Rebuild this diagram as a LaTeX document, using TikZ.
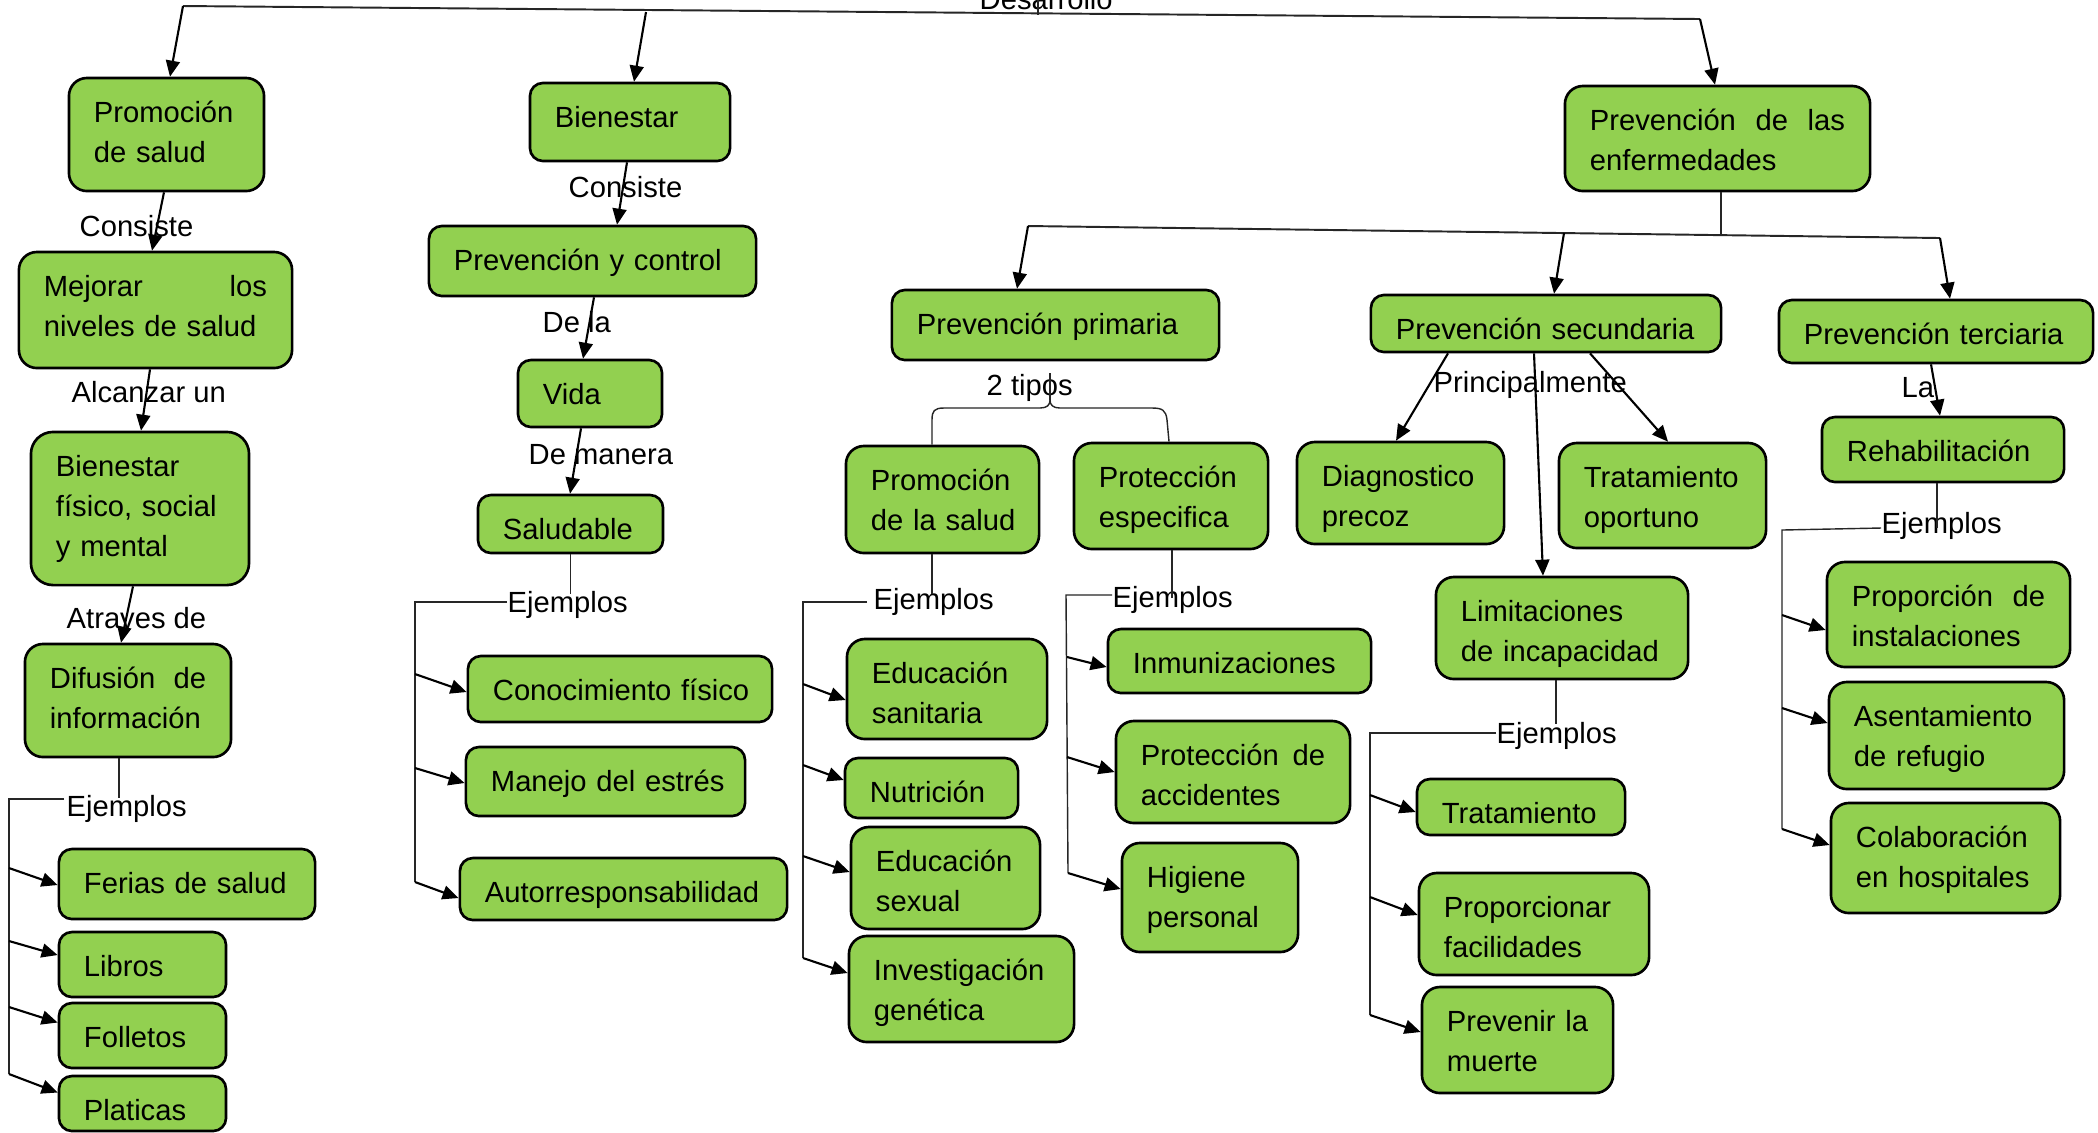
\documentclass[tikz,border=0pt]{standalone}
\usepackage{fontspec}
\setmainfont{Liberation Sans}
\usetikzlibrary{calc,arrows.meta}
\definecolor{boxgreen}{RGB}{146,208,80}
\begin{document}
\lefthyphenmin=62
\righthyphenmin=62
\begin{tikzpicture}[x=0.01cm,y=-0.01cm,
  box/.style={draw=black, line width=0.75pt, fill=boxgreen, rounded corners=0.13cm,
    inner sep=0pt, align=left, text height=0.445cm, font=\fontsize{8.3}{11.4}\selectfont},
  sz/.style n args={4}{minimum width=#1cm, minimum height=#2cm, text width=#3cm, text depth=#4cm},
  tall/.style={rounded corners=0.18cm},
  lbl/.style={inner sep=0pt, anchor=base west, font=\fontsize{8.3}{11.4}\selectfont},
  arr/.style={line width=0.6pt, -{Triangle[length=1.6mm,width=1.4mm]}},
  thinl/.style={line width=0.4pt, black!85},
  midl/.style={line width=0.55pt, black!85}]
\useasboundingbox (0,0) rectangle (2098,1132);
\fill[white] (0,0) rectangle (2098,1132);

% ---------- boxes ----------
\node[box,tall,sz={1.95}{1.13}{1.45}{0.685}] (promo) at (166.5,134.5) {Promoción\\de salud};
\node[box,tall,sz={2.73}{1.16}{2.23}{0.715}] (mejorar) at (155.5,310) {Mejorar\hfill los\\niveles de salud};
\node[box,rounded corners=0.22cm,sz={2.18}{1.53}{1.68}{1.085}] (bfsm) at (140,508.5) {Bienestar\\físico, social\\y mental};
\node[box,tall,sz={2.06}{1.13}{1.56}{0.685}] (difusion) at (128,700.5) {Difusión\hfill de\\información};
\node[box,sz={2.56}{0.70}{2.06}{0.255}] (ferias) at (187,884) {Ferias~de~salud};
\node[box,sz={1.67}{0.65}{1.17}{0.205}] (libros) at (142.5,964.5) {Libros};
\node[box,sz={1.67}{0.65}{1.17}{0.205}] (folletos) at (142.5,1035.5) {Folletos};
\node[box,sz={1.67}{0.55}{1.17}{0.105}] (platicas) at (142.5,1103.5) {Platicas};

\node[box,sz={2.00}{0.78}{1.50}{0.335}] (bienestar) at (630,122) {Bienestar};
\node[box,sz={3.27}{0.70}{2.77}{0.255}] (pyc) at (592.5,261) {Prevención~y~control};
\node[box,sz={1.44}{0.67}{0.94}{0.225}] (vida) at (590,393.5) {Vida};
\node[box,sz={1.85}{0.58}{1.35}{0.135}] (saludable) at (570.5,524) {Saludable};
\node[box,sz={3.04}{0.66}{2.54}{0.215}] (conoc) at (620,689) {Conocimiento~físico};
\node[box,sz={2.79}{0.69}{2.29}{0.245}] (manejo) at (605.5,781.5) {Manejo~del~estrés};
\node[box,sz={3.27}{0.62}{2.77}{0.175}] (autor) at (623.5,889) {Autorresponsabilidad};

\node[box,tall,sz={3.05}{1.05}{2.55}{0.605}] (pde) at (1717.5,138.5) {Prevención\hfill de\hfill las\\enfermedades};
\node[box,sz={3.27}{0.70}{2.77}{0.255}] (pprim) at (1055.5,325) {Prevención~primaria};
\node[box,sz={3.50}{0.57}{3.00}{0.125}] (psec) at (1546,323.5) {Prevención~secundaria};
\node[box,sz={3.14}{0.63}{2.64}{0.185}] (pter) at (1936,331.5) {Prevención~terciaria};

\node[box,tall,sz={1.93}{1.07}{1.43}{0.625}] (pls) at (942.5,499.5) {Promoción\\de~la~salud};
\node[box,tall,sz={1.94}{1.06}{1.44}{0.615}] (pesp) at (1171,496) {Protección\\especifica};
\node[box,tall,sz={2.00}{1.00}{1.50}{0.555}] (edsan) at (947,689) {Educación\\sanitaria};
\node[box,sz={1.73}{0.60}{1.23}{0.155}] (nutri) at (931.5,788) {Nutrición};
\node[box,tall,sz={1.89}{1.02}{1.39}{0.575}] (edsex) at (945.5,878) {Educación\\sexual};
\node[box,tall,sz={2.25}{1.06}{1.75}{0.615}] (invgen) at (961.5,989) {Investigación\\genética};
\node[box,sz={2.63}{0.64}{2.13}{0.195}] (inmun) at (1239.5,661) {Inmunizaciones};
\node[box,tall,sz={2.34}{1.02}{1.84}{0.575}] (protacc) at (1233,772) {Protección\hfill de\\accidentes};
\node[box,tall,sz={1.76}{1.09}{1.26}{0.645}] (higiene) at (1210,897.5) {Higiene\\personal};

\node[box,tall,sz={2.07}{1.02}{1.57}{0.575}] (diag) at (1400.5,493) {Diagnostico\\precoz};
\node[box,tall,sz={2.07}{1.05}{1.57}{0.605}] (tratop) at (1662.5,495.5) {Tratamiento\\oportuno};
\node[box,tall,sz={2.52}{1.02}{2.02}{0.575}] (limit) at (1562,628) {Limitaciones\\de~incapacidad};
\node[box,sz={2.08}{0.56}{1.58}{0.115}] (trat) at (1521,807) {Tratamiento};
\node[box,tall,sz={2.30}{1.02}{1.80}{0.575}] (propfac) at (1534,924) {Proporcionar\\facilidades};
\node[box,tall,sz={1.91}{1.06}{1.41}{0.615}] (prevm) at (1517.5,1040) {Prevenir~la\\muerte};

\node[box,sz={2.42}{0.65}{1.92}{0.205}] (rehab) at (1943,449.5) {Rehabilitación};
\node[box,tall,sz={2.43}{1.05}{1.93}{0.605}] (propinst) at (1948.5,614.5) {Proporción\hfill de\\instalaciones};
\node[box,tall,sz={2.35}{1.07}{1.85}{0.625}] (asent) at (1946.5,735.5) {Asentamiento\\de refugio};
\node[box,tall,sz={2.29}{1.10}{1.79}{0.655}] (colab) at (1945.5,858) {Colaboración\\en hospitales};

% ---------- labels ----------
\node[lbl] (desarrollo) at (979,9) {Desarrollo};
\node[lbl] (consiste1) at (79,236) {Consiste};
\node[lbl] (alcanzar) at (71,402) {Alcanzar un};
\node[lbl] (atraves) at (66,628) {Atraves de};
\node[lbl] (ej1) at (66,816) {Ejemplos};
\node[lbl] (consiste2) at (568,197) {Consiste};
\node[lbl] (dela) at (542,332) {De la};
\node[lbl] (demanera) at (528,464) {De manera};
\node[lbl] (ej2) at (507,612) {Ejemplos};
\node[lbl] (tipos) at (986,395) {2 tipos};
\node[lbl] (ej3) at (873,609) {Ejemplos};
\node[lbl] (ej4) at (1112,607) {Ejemplos};
\node[lbl] (princ) at (1433,392) {Principalmente};
\node[lbl] (ej5) at (1496,743) {Ejemplos};
\node[lbl] (la) at (1901,397) {La};
\node[lbl] (ej6) at (1881,533) {Ejemplos};

% ---------- top level ----------
\coordinate (tA) at (183,6);
\coordinate (tBien) at (646,12);
\coordinate (tB) at (1700,19);
\draw[midl] (tA) -- (tB);
\draw[thinl] ($(desarrollo.base west)+(59,-9)$) -- ++(0,15);
\draw[arr] (tA) -- ($(promo.north)+(3.5,0)$);
\draw[arr] (tBien) -- ($(bienestar.north)+(4,0)$);
\draw[arr] (tB) -- ($(pde.north)+(-2.5,0)$);

% ---------- second level ----------
\coordinate (s1) at (1028,226);
\coordinate (s2) at (1564,233);
\coordinate (sJ) at (1721,235);
\coordinate (s3) at (1940,238);
\draw[thinl] ($(pde.south)+(3.5,0)$) -- (sJ);
\draw[midl] (s1) -- (s3);
\draw[arr] (s1) -- ($(pprim.north)+(-38.5,0)$);
\draw[arr] (s2) -- ($(psec.north)+(8,0)$);
\draw[arr] (s3) -- ($(pter.north)+(14,0)$);

% ---------- chains ----------
\draw[arr] ($(promo.south)+(-2.5,0)$) -- ($(mejorar.north)+(-3.5,0)$);
\draw[arr] ($(mejorar.south)+(-5.5,0)$) -- ($(bfsm.north)+(1,0)$);
\draw[arr] ($(bfsm.south)+(-7,0)$) -- ($(difusion.north)+(-7,0)$);
\draw[arr] ($(bienestar.south)+(-3,0)$) -- ($(pyc.north)+(24.5,0)$);
\draw[arr] ($(pyc.south)+(1.5,0)$) -- ($(vida.north)+(-7,0)$);
\draw[arr] ($(vida.south)+(-9,0)$) -- ($(saludable.north)+(-0.5,0)$);
\draw[arr] ($(psec.south)+(-98,0)$) -- ($(diag.north)+(-4.5,0)$);
\draw[arr] ($(psec.south)+(-12,0)$) -- ($(limit.north)+(-19,0)$);
\draw[arr] ($(psec.south)+(44,0)$) -- ($(tratop.north)+(5.5,0)$);
\draw[arr] ($(pter.south)+(-5,0)$) -- ($(rehab.north)+(-3,0)$);

% ---------- brace (2 tipos) ----------
\draw[thinl] ($(tipos.base west)+(64,-22)$) -- (1050,400);
\draw[thinl] ($(pls.north)+(-10.5,0)$) -- (932,420) .. controls (932,411) and (934,408) .. (944,408)
  -- (1040,408) .. controls (1047,408) and (1050,405) .. (1050,400)
  .. controls (1050,405) and (1053,408) .. (1060,408) -- (1152,408)
  .. controls (1162,408) and (1166,410) .. (1167,420) -- ($(pesp.north)+(-2,0)$);

% ---------- bracket 1 ----------
\draw[thinl] ($(difusion.south)+(-9,0)$) -- ++(0,40);
\coordinate (b1t) at (9,799); \coordinate (b1b) at (9,1074);
\draw[thinl] ($(ej1.base west)+(-2,-17)$) -- (b1t) -- (b1b);
\coordinate (b1a) at (9,868); \coordinate (b1c) at (9,941); \coordinate (b1d) at (9,1007);
\draw[arr] (b1a) -- ($(ferias.west)+(0,1)$);
\draw[arr] (b1c) -- ($(libros.west)+(0,-9.5)$);
\draw[arr] (b1d) -- ($(folletos.west)+(0,-13)$);
\draw[arr] (b1b) -- ($(platicas.west)+(0,-11)$);

% ---------- bracket 2 ----------
\draw[thinl] (saludable.south) -- ++(0,40);
\coordinate (b2t) at (415,602); \coordinate (b2b) at (415,882);
\draw[thinl] ($(ej2.base west)+(0,-10)$) -- (b2t) -- (b2b);
\coordinate (b2a) at (415,674); \coordinate (b2c) at (415,768);
\draw[arr] (b2a) -- ($(conoc.west)+(0,3)$);
\draw[arr] (b2c) -- ($(manejo.west)+(0,1.5)$);
\draw[arr] (b2b) -- ($(autor.west)+(0,9)$);

% ---------- bracket 3 ----------
\draw[thinl] ($(pls.south)+(-10.5,0)$) -- ++(0,40);
\coordinate (b3t) at (803,602); \coordinate (b3b) at (803,958);
\draw[thinl] ($(ej3.base west)+(-6,-7)$) -- (b3t) -- (b3b);
\coordinate (b3a) at (803,684); \coordinate (b3c) at (803,765); \coordinate (b3d) at (803,856);
\draw[arr] (b3a) -- ($(edsan.west)+(0,11)$);
\draw[arr] (b3c) -- ($(nutri.west)+(0,-8)$);
\draw[arr] (b3d) -- ($(edsex.west)+(0,-6)$);
\draw[arr] (b3b) -- ($(invgen.west)+(0,-16)$);

% ---------- bracket 4 ----------
\draw[thinl] ($(pesp.south)+(1,0)$) -- ++(0,48);
\coordinate (b4t) at (1066,595); \coordinate (b4b) at (1068,873);
\draw[thinl] ($(ej4.base west)+(0,-12)$) -- (b4t) -- (b4b);
\coordinate (b4a) at (1067,657); \coordinate (b4c) at (1067,757);
\draw[arr] (b4a) -- ($(inmun.west)+(0,6)$);
\draw[arr] (b4c) -- (protacc.west);
\draw[arr] (b4b) -- ($(higiene.west)+(0,-8.5)$);

% ---------- bracket 5 ----------
\draw[thinl] ($(limit.south)+(-6,0)$) -- ++(0,44);
\coordinate (b5t) at (1370,733); \coordinate (b5b) at (1370,1015);
\draw[thinl] ($(ej5.base west)+(0,-10)$) -- (b5t) -- (b5b);
\coordinate (b5a) at (1370,795); \coordinate (b5c) at (1370,897);
\draw[arr] (b5a) -- ($(trat.west)+(0,5)$);
\draw[arr] (b5c) -- ($(propfac.west)+(0,-9)$);
\draw[arr] (b5b) -- ($(prevm.west)+(0,-8)$);

% ---------- bracket 6 ----------
\draw[thinl] ($(rehab.south)+(-6,0)$) -- ++(0,45);
\coordinate (b6t) at (1782,530); \coordinate (b6b) at (1782,829);
\draw[thinl] ($(ej6.base west)+(0,-5)$) -- (b6t) -- (b6b);
\coordinate (b6a) at (1782,615); \coordinate (b6c) at (1782,708);
\draw[arr] (b6a) -- ($(propinst.west)+(0,15.5)$);
\draw[arr] (b6c) -- ($(asent.west)+(0,-12.5)$);
\draw[arr] (b6b) -- ($(colab.west)+(0,-13)$);
\end{tikzpicture}
\end{document}
